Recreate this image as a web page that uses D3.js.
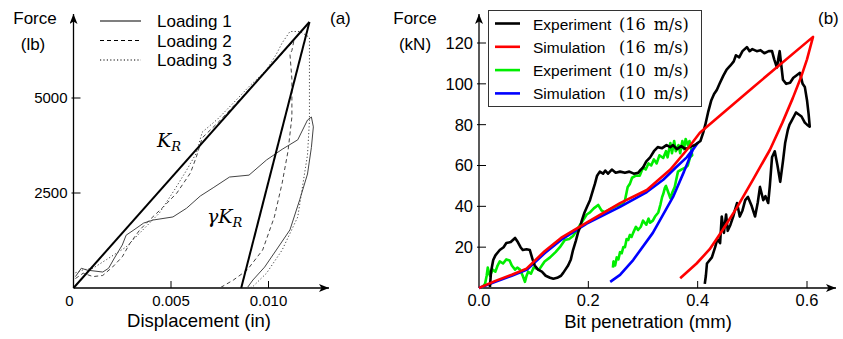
<!DOCTYPE html>
<html>
<head>
<meta charset="utf-8">
<script src="https://cdn.jsdelivr.net/npm/d3@7"></script>
<style>
  body { margin: 0; background: #fff; }
  svg { display: block; }
  text { font-family: "Liberation Sans", Arial, sans-serif; fill: #000; }
  .math { font-family: "DejaVu Serif", "Liberation Serif", serif; font-style: italic; }
</style>
</head>
<body>
<svg width="843" height="339"></svg>
<script>
// ---- panel (a): force vs displacement ----
var xTicksA = [0, 0.005, 0.010],
  xTickLabelsA = ["0", "0.005", "0.010"],
  yTicksA = [2500, 5000];

var legendA = ["Loading 1", "Loading 2", "Loading 3"];

var krLine = [[0, 0], [0.0121, 7000]];
var gammaKrLine = [[0.0121, 7000], [0.0086, 0]];

var loading1 = [[0.0001,300],[0.0004,520],[0.0007,470],[0.0015,420],[0.0018,520],[0.0021,790],[0.0025,1130],
  [0.0027,1390],[0.0031,1530],[0.0036,1710],[0.0041,1790],[0.0051,1870],[0.0058,2100],[0.0065,2420],
  [0.0072,2650],[0.008,2920],[0.009,2970],[0.0099,3370],[0.0107,3650],[0.0115,3900],[0.012,4420],
  [0.0122,4500],[0.0123,4240],[0.0122,3700],[0.012,3000],[0.0116,2320],[0.0111,1530],[0.0104,1000],
  [0.0098,550],[0.0092,210],[0.0089,0]];

var loading2 = [[0.0001,250],[0.0005,390],[0.001,300],[0.0015,330],[0.002,550],[0.0025,820],[0.0029,1180],
  [0.0034,1530],[0.0039,1790],[0.0046,2130],[0.0053,2500],[0.006,3030],[0.0063,3450],[0.0066,3950],
  [0.0075,4400],[0.0085,4950],[0.0095,5500],[0.0104,6000],[0.011,6350],[0.0113,6500],[0.0112,6250],
  [0.0111,6150],[0.0112,5500],[0.0112,4500],[0.011,3600],[0.0107,2760],[0.0103,1870],[0.0097,1000],
  [0.0089,470],[0.0082,210],[0.0075,0]];

var loading3 = [[0.0001,400],[0.0005,480],[0.001,520],[0.0017,750],[0.0027,1080],[0.0035,1500],[0.0044,1970],
  [0.0052,2600],[0.0058,3100],[0.0063,3550],[0.0066,4100],[0.0074,4450],[0.0082,4870],[0.009,5300],
  [0.0099,5740],[0.0104,6150],[0.0107,6450],[0.0111,6750],[0.0116,6750],[0.0121,6600],[0.0121,5500],
  [0.0121,4400],[0.012,3500],[0.0119,3180],[0.0115,1870],[0.0107,1000],[0.0099,390],[0.0092,40],[0.009,0]];

// ---- panel (b): force vs bit penetration ----
var xTicksB = [0, 0.2, 0.4, 0.6],
  yTicksB = [20, 40, 60, 80, 100, 120];

var seriesNames = ["Experiment", "Simulation", "Experiment", "Simulation"],
  seriesSpeeds = ["(16 m/s)", "(16 m/s)", "(10 m/s)", "(10 m/s)"],
  seriesColors = ["#000000", "#ff0000", "#00ee00", "#0000ff"];

var exp16 = [[0.02,0.5],[0.022,8],[0.026,13.7],[0.03,16],[0.038,18.6],[0.045,20],[0.05,22],[0.058,22.5],
  [0.066,24.5],[0.071,22.5],[0.076,20],[0.08,18.6],[0.087,19],[0.093,18.6],[0.098,14],[0.102,11],[0.108,9],
  [0.115,8],[0.122,6],[0.13,5],[0.136,4.5],[0.143,5],[0.15,6],[0.154,7.4],[0.158,9],[0.163,11],[0.168,14],
  [0.172,18.6],[0.177,23],[0.181,27],[0.185,30],[0.188,33],[0.193,37],[0.198,40],[0.203,43],[0.207,46.6],
  [0.212,51],[0.216,55],[0.221,57],[0.227,56],[0.231,57.5],[0.236,56],[0.243,58],[0.25,56.5],[0.258,57],
  [0.267,56.4],[0.275,57],[0.283,56],[0.291,56.4],[0.296,58],[0.3,59],[0.306,62],[0.313,64],[0.32,67],
  [0.327,69],[0.335,68.5],[0.343,70],[0.35,69],[0.355,70],[0.362,68],[0.37,69.5],[0.378,68],[0.385,69],
  [0.395,70],[0.405,72],[0.41,76],[0.414,80],[0.419,86],[0.425,92],[0.43,95],[0.435,97],[0.44,100],
  [0.447,104],[0.453,107],[0.46,109],[0.466,111],[0.47,114],[0.476,113],[0.482,116],[0.49,118],[0.495,116],
  [0.5,117],[0.508,116],[0.515,116.5],[0.522,115],[0.53,116],[0.536,116],[0.54,112],[0.545,108],[0.548,113],
  [0.55,116],[0.553,109],[0.556,102],[0.562,100],[0.569,100.5],[0.575,103],[0.58,104],[0.587,105.4],
  [0.592,100],[0.596,98.5],[0.6,92],[0.603,85],[0.605,79],[0.6,80],[0.596,81],[0.59,84],[0.585,85],
  [0.58,86],[0.576,84],[0.572,82],[0.568,80],[0.565,77.5],[0.56,71],[0.556,62],[0.551,52],[0.546,60],
  [0.541,67],[0.536,64],[0.532,50],[0.529,41.6],[0.524,45],[0.52,43],[0.514,49.5],[0.51,42],[0.505,35],
  [0.499,40],[0.492,44.6],[0.487,43],[0.482,38],[0.477,35],[0.472,41.6],[0.468,38],[0.465,35],[0.46,31],
  [0.455,28],[0.452,36],[0.448,27],[0.444,35],[0.441,22],[0.436,24],[0.432,20],[0.426,15],[0.42,13],
  [0.417,12],[0.415,6],[0.413,2]];

var sim16 = [[0,0],[0.03,3.5],[0.06,6.5],[0.087,9.5],[0.12,18],[0.15,24.5],[0.2,32.5],[0.258,41.6],
  [0.307,48],[0.35,58],[0.38,67.6],[0.404,76],[0.5,98],[0.611,123],[0.6,112],[0.59,104],[0.574,93],
  [0.555,81],[0.532,67.6],[0.501,53],[0.472,39.5],[0.446,28.5],[0.422,19],[0.398,12],[0.368,4.8]];

var exp10 = [[0.005,0],[0.011,2],[0.014,6],[0.016,10],[0.02,6],[0.025,9],[0.03,8],[0.034,11],[0.038,13],
  [0.044,12],[0.05,14],[0.056,13.5],[0.06,11],[0.066,9],[0.07,10],[0.075,9],[0.08,6],[0.084,3],[0.087,6],
  [0.09,8],[0.095,7],[0.1,10],[0.105,9.5],[0.11,9],[0.115,11],[0.12,13],[0.13,15],[0.14,17.6],[0.148,20],
  [0.157,23.5],[0.165,24],[0.172,25.5],[0.178,28],[0.185,31],[0.19,33],[0.197,36],[0.203,37],[0.21,39],
  [0.218,40.7],[0.224,38],[0.23,37],[0.236,38],[0.243,39],[0.25,40],[0.258,40.7],[0.263,41],[0.267,43],
  [0.272,49.5],[0.276,51],[0.28,54],[0.287,55],[0.294,55],[0.3,59],[0.305,58],[0.31,61],[0.315,60],
  [0.32,63],[0.325,61],[0.33,65],[0.337,63.7],[0.342,67],[0.345,64],[0.35,71],[0.353,66],[0.357,72],
  [0.36,67],[0.365,70],[0.368,66],[0.372,72],[0.375,68],[0.378,73],[0.382,70],[0.385,72],[0.388,68],
  [0.39,65],[0.386,64],[0.382,60],[0.378,59],[0.37,58],[0.364,57],[0.36,52],[0.358,49.5],[0.354,47],
  [0.35,44],[0.346,47],[0.342,50],[0.34,49],[0.337,46],[0.335,44.6],[0.332,41],[0.328,37],[0.325,36],
  [0.322,35],[0.318,33],[0.313,32],[0.31,34],[0.306,31],[0.3,33],[0.296,30],[0.291,28.4],[0.287,30],
  [0.282,27],[0.279,25],[0.276,26],[0.273,23.5],[0.27,24],[0.267,20],[0.264,20],[0.261,17],[0.258,17.6],
  [0.255,14],[0.252,15],[0.249,11],[0.246,13],[0.245,10]];

var sim10 = [[0,0],[0.03,3],[0.06,6],[0.088,9],[0.12,17],[0.15,23.5],[0.197,31.5],[0.258,39.7],[0.307,47],
  [0.337,53],[0.36,59],[0.38,64],[0.4,71],[0.391,67.6],[0.375,57],[0.355,44.6],[0.318,27],[0.282,13.7],
  [0.258,6.4],[0.24,3]];

var svg = d3.select("svg");

svg.append("defs").append("marker")
  .attr("id", "arrow")
  .attr("viewBox", "0 0 10 8")
  .attr("refX", 10)
  .attr("refY", 4)
  .attr("markerWidth", 10)
  .attr("markerHeight", 8)
  .attr("markerUnits", "userSpaceOnUse")
  .attr("orient", "auto")
  .append("path")
  .attr("d", "M0,0 L10,4 L0,8 L2.5,4 Z")
  .attr("fill", "#000");

function drawAxes(x, y, xEnd, yTop, xTicks, xLabels, yTicks, fontSize) {
  var g = svg.append("g");
  var x0 = x.range()[0], y0 = y.range()[0];
  g.append("line").attr("x1", x0).attr("y1", y0).attr("x2", xEnd).attr("y2", y0)
    .attr("stroke", "#000").attr("stroke-width", 1.3).attr("marker-end", "url(#arrow)");
  g.append("line").attr("x1", x0).attr("y1", y0).attr("x2", x0).attr("y2", yTop)
    .attr("stroke", "#000").attr("stroke-width", 1.3).attr("marker-end", "url(#arrow)");

  g.selectAll(".xt").data(xTicks.filter(function (d) { return d !== 0; }))
    .enter().append("line")
    .attr("x1", function (d) { return x(d); }).attr("x2", function (d) { return x(d); })
    .attr("y1", y0).attr("y2", y0 - 7)
    .attr("stroke", "#000").attr("stroke-width", 1);
  g.selectAll(".xl").data(xTicks)
    .enter().append("text")
    .attr("x", function (d) { return x(d) - (d === 0 && xLabels[0] === "0" ? 4 : 0); })
    .attr("y", y0 + 18)
    .attr("text-anchor", "middle")
    .style("font-size", fontSize + "px")
    .text(function (d, i) { return xLabels[i]; });

  g.selectAll(".yt").data(yTicks)
    .enter().append("line")
    .attr("x1", x0 - 2).attr("x2", x0 + 7)
    .attr("y1", function (d) { return y(d); }).attr("y2", function (d) { return y(d); })
    .attr("stroke", "#000").attr("stroke-width", 1);
  g.selectAll(".yl").data(yTicks)
    .enter().append("text")
    .attr("x", x0 - 6)
    .attr("y", function (d) { return y(d) + fontSize * 0.36; })
    .attr("text-anchor", "end")
    .style("font-size", fontSize + "px")
    .text(function (d) { return d; });
}

// ---- draw panel (a) ----
var xA = d3.scaleLinear().domain([0, 0.010]).range([73.5, 268.5]);
var yA = d3.scaleLinear().domain([0, 5000]).range([288, 98]);
var lineA = d3.line().x(function (d) { return xA(d[0]); }).y(function (d) { return yA(d[1]); });

drawAxes(xA, yA, 329, 14, xTicksA, xTickLabelsA, yTicksA, 15);

var loadStyles = [null, "4,3", "1.2,2.2"];
[loading1, loading2, loading3].forEach(function (data, i) {
  svg.append("path").datum(data)
    .attr("d", lineA)
    .attr("fill", "none")
    .attr("stroke", "#444")
    .attr("stroke-width", 1)
    .attr("stroke-dasharray", loadStyles[i]);
});

[krLine, gammaKrLine].forEach(function (data) {
  svg.append("path").datum(data)
    .attr("d", lineA)
    .attr("fill", "none")
    .attr("stroke", "#000")
    .attr("stroke-width", 2);
});

svg.append("text").attr("class", "math").attr("x", 157).attr("y", 147)
  .style("font-size", "19px")
  .text("K").append("tspan").attr("dy", 4).style("font-size", "13px").text("R");
var gk = svg.append("text").attr("class", "math").attr("x", 207).attr("y", 223)
  .style("font-size", "19px");
gk.append("tspan").text("γK");
gk.append("tspan").attr("dy", 4).style("font-size", "13px").text("R");

svg.append("text").attr("x", 35).attr("y", 24).attr("text-anchor", "middle")
  .style("font-size", "17px").text("Force");
svg.append("text").attr("x", 33).attr("y", 50).attr("text-anchor", "middle")
  .style("font-size", "17px").text("(lb)");
svg.append("text").attr("x", 199).attr("y", 327).attr("text-anchor", "middle")
  .style("font-size", "18.5px").text("Displacement (in)");
svg.append("text").attr("x", 330).attr("y", 24)
  .style("font-size", "17px").text("(a)");

var legA = svg.append("g").selectAll("g").data(legendA).enter().append("g")
  .attr("transform", function (d, i) { return "translate(0," + (21 + i * 19.5) + ")"; });
legA.append("line").attr("x1", 100).attr("x2", 141).attr("y1", 0).attr("y2", 0)
  .attr("stroke", "#000").attr("stroke-width", 1.2)
  .attr("stroke-dasharray", function (d, i) { return loadStyles[i]; });
legA.append("text").attr("x", 157).attr("y", 6).style("font-size", "17px")
  .text(function (d) { return d; });

// ---- draw panel (b) ----
var xB = d3.scaleLinear().domain([0, 0.6]).range([479, 807]);
var yB = d3.scaleLinear().domain([0, 120]).range([288, 43]);
var lineB = d3.line().x(function (d) { return xB(d[0]); }).y(function (d) { return yB(d[1]); });

drawAxes(xB, yB, 836, 14, xTicksB, xTicksB.map(d3.format(".1f")), yTicksB, 16.5);

[exp10, sim10, exp16, sim16].forEach(function (data, i) {
  var c = [seriesColors[2], seriesColors[3], seriesColors[0], seriesColors[1]][i];
  svg.append("path").datum(data)
    .attr("d", lineB)
    .attr("fill", "none")
    .attr("stroke", c)
    .attr("stroke-width", 2.6)
    .attr("stroke-linejoin", "round");
});

svg.append("text").attr("x", 415).attr("y", 24).attr("text-anchor", "middle")
  .style("font-size", "17px").text("Force");
svg.append("text").attr("x", 415).attr("y", 50).attr("text-anchor", "middle")
  .style("font-size", "17px").text("(kN)");
svg.append("text").attr("x", 648).attr("y", 328).attr("text-anchor", "middle")
  .style("font-size", "18.5px").text("Bit penetration (mm)");
svg.append("text").attr("x", 818).attr("y", 24)
  .style("font-size", "17px").text("(b)");

svg.append("rect").attr("x", 488.5).attr("y", 10.5).attr("width", 213).attr("height", 96)
  .attr("fill", "#fff").attr("stroke", "#333").attr("stroke-width", 1);
var legB = svg.append("g").selectAll("g").data(seriesNames).enter().append("g")
  .attr("transform", function (d, i) { return "translate(0," + (23.5 + i * 23.3) + ")"; });
legB.append("line").attr("x1", 495).attr("x2", 520).attr("y1", 0).attr("y2", 0)
  .attr("stroke", function (d, i) { return seriesColors[i]; }).attr("stroke-width", 2.6);
legB.append("text").attr("x", 533).attr("y", 6).style("font-size", "15.5px")
  .text(function (d) { return d; });
legB.append("text").attr("x", 619).attr("y", 6)
  .style("font-family", "'DejaVu Serif', serif").style("font-size", "16px")
  .style("word-spacing", "3px")
  .text(function (d, i) { return seriesSpeeds[i]; });
</script>
</body>
</html>
